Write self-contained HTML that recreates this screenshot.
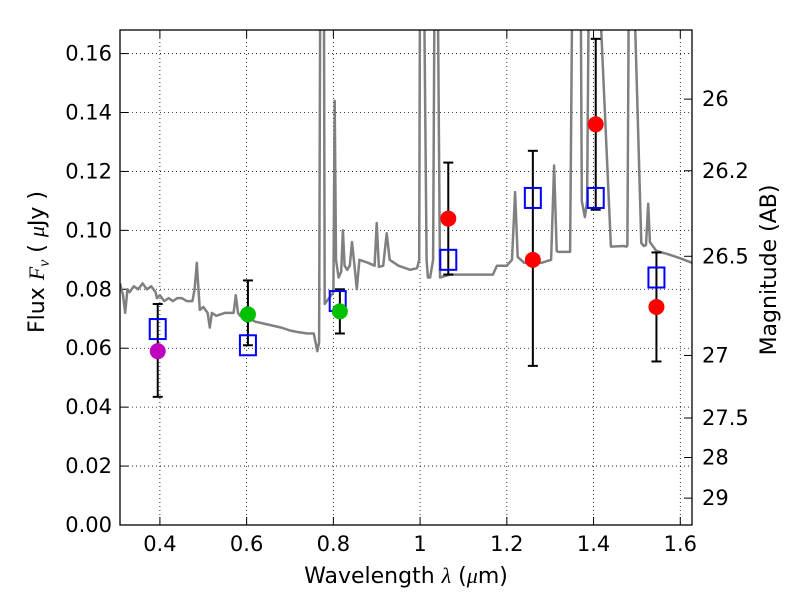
<!DOCTYPE html>
<html><head><meta charset="utf-8"><style>
body{margin:0;background:#fff;width:800px;height:600px;overflow:hidden}
svg text{font-family:"DejaVu Sans","Liberation Sans",sans-serif;fill:#000}
</style></head><body>
<svg id="chart" width="800" height="600">
<defs><clipPath id="pc"><rect x="120" y="30" width="572" height="495"/></clipPath></defs>
</svg>
<script>
const specWave=[0.308,0.315,0.32,0.325,0.33,0.34,0.35,0.36,0.37,0.38,0.39,0.393,0.40,0.41,0.42,0.43,0.44,0.45,0.462,0.475,0.48,0.485,0.492,0.50,0.51,0.515,0.52,0.53,0.55,0.57,0.575,0.58,0.585,0.60,0.62,0.65,0.68,0.70,0.717,0.74,0.755,0.763,0.767,0.77,0.775,0.778,0.78,0.79,0.80,0.803,0.806,0.812,0.818,0.822,0.826,0.832,0.838,0.843,0.848,0.854,0.86,0.88,0.895,0.9,0.905,0.915,0.923,0.93,0.95,0.977,0.993,0.998,1.0,1.008,1.015,1.018,1.023,1.03,1.034,1.04,1.046,1.069,1.1,1.168,1.177,1.2,1.212,1.219,1.225,1.24,1.28,1.302,1.309,1.315,1.318,1.346,1.352,1.37,1.373,1.38,1.385,1.39,1.40,1.408,1.44,1.47,1.476,1.478,1.482,1.486,1.49,1.51,1.516,1.521,1.526,1.53,1.545,1.57,1.60,1.627];
const specFlux=[0.082,0.078,0.072,0.080,0.079,0.081,0.080,0.082,0.080,0.081,0.079,0.077,0.078,0.076,0.077,0.076,0.077,0.077,0.076,0.076,0.080,0.089,0.073,0.074,0.072,0.067,0.072,0.071,0.072,0.072,0.078,0.072,0.071,0.0706,0.069,0.068,0.067,0.066,0.0655,0.065,0.065,0.059,0.062,0.2,0.2,0.2,0.075,0.077,0.079,0.144,0.09,0.084,0.086,0.100,0.088,0.0866,0.088,0.096,0.089,0.080,0.090,0.089,0.088,0.1025,0.0876,0.088,0.099,0.090,0.088,0.0866,0.0872,0.09,0.2,0.2,0.09,0.084,0.084,0.09,0.2,0.2,0.084,0.085,0.085,0.085,0.088,0.088,0.09,0.113,0.091,0.089,0.089,0.09,0.122,0.093,0.0927,0.0927,0.2,0.2,0.11,0.1045,0.11,0.2,0.2,0.2,0.0945,0.0947,0.0945,0.095,0.2,0.2,0.2,0.0957,0.0947,0.095,0.109,0.096,0.093,0.092,0.0905,0.089,0.0895];
const pointWave=[0.395,0.603,0.815,1.065,1.26,1.405,1.545];
const pointFlux=[0.059,0.0715,0.0725,0.104,0.090,0.136,0.074];
const pointLo=[0.0435,0.061,0.065,0.085,0.054,0.107,0.0555];
const pointHi=[0.075,0.083,0.080,0.123,0.127,0.165,0.0925];
const pointColor=["#bf00bf","#00c000","#00c000","#ff0000","#ff0000","#ff0000","#ff0000"];
const modelWave=[0.395,0.603,0.81,1.065,1.26,1.405,1.545];
const modelFlux=[0.0665,0.061,0.076,0.090,0.111,0.111,0.084];
const xTicks=[0.4,0.6,0.8,1,1.2,1.4,1.6];
const yTicks=[0,0.02,0.04,0.06,0.08,0.1,0.12,0.14,0.16];
const magTicks=[26,26.2,26.5,27,27.5,28,29];

const X0=120,X1=692,Y0=30,Y1=525,WMIN=0.308,WMAX=1.627,FMAX=0.168;
const sx=w=>X0+(w-WMIN)/(WMAX-WMIN)*(X1-X0);
const sy=f=>Y1-f/FMAX*(Y1-Y0);
const svg=document.getElementById('chart');const NS='http://www.w3.org/2000/svg';
function mk(t,a,p){const e=document.createElementNS(NS,t);for(const k in a)e.setAttribute(k,a[k]);(p||svg).appendChild(e);return e;}

const grid=mk('g',{});


xTicks.forEach(v=>{mk('line',{x1:sx(v),x2:sx(v),y1:Y0,y2:Y1,stroke:'#000','stroke-dasharray':'1,3','stroke-width':0.8},grid);
mk('line',{x1:sx(v),x2:sx(v),y1:Y1,y2:Y1-8,stroke:'#000'},grid);mk('line',{x1:sx(v),x2:sx(v),y1:Y0,y2:Y0+8,stroke:'#000'},grid);
const t=mk('text',{x:sx(v),y:Y1+26,'font-size':21,'text-anchor':'middle'});t.textContent=String(v);

});
yTicks.forEach(v=>{mk('line',{x1:X0,x2:X1,y1:sy(v),y2:sy(v),stroke:'#000','stroke-dasharray':'1,3','stroke-width':0.8},grid);
mk('line',{x1:X0,x2:X0+8,y1:sy(v),y2:sy(v),stroke:'#000'},grid);
const t=mk('text',{x:X0-8,y:sy(v)+7,'font-size':21,'text-anchor':'end'});t.textContent=v.toFixed(2);

});
magTicks.forEach(m=>{const f=Math.pow(10,(23.9-m)/2.5);const y=sy(f);
mk('line',{x1:X1,x2:X1-8,y1:y,y2:y,stroke:'#000'},grid);
const t=mk('text',{x:X1+10,y:y+7,'font-size':21});t.textContent=String(m);

});

const plot=mk('g',{'clip-path':'url(#pc)'});
let d='';specWave.forEach((w,i)=>{d+=(i?'L':'M')+sx(w).toFixed(1)+','+sy(specFlux[i]).toFixed(1);});
const sp=mk('path',{d:d,fill:'none',stroke:'#808080','stroke-width':2.5,'stroke-linejoin':'round'},plot);


pointWave.forEach((w,i)=>{const x=sx(w);
const eb=mk('g',{},plot);


mk('line',{x1:x,x2:x,y1:sy(pointLo[i]),y2:sy(pointHi[i]),stroke:'#000','stroke-width':2},eb);
mk('line',{x1:x-5,x2:x+5,y1:sy(pointLo[i]),y2:sy(pointLo[i]),stroke:'#000','stroke-width':2},eb);
mk('line',{x1:x-5,x2:x+5,y1:sy(pointHi[i]),y2:sy(pointHi[i]),stroke:'#000','stroke-width':2},eb);});
modelWave.forEach((w,i)=>{const r=mk('rect',{x:sx(w)-8,y:sy(modelFlux[i])-10,width:16,height:20,fill:'none',stroke:'#0000ff','stroke-width':2},plot);

});
pointWave.forEach((w,i)=>{const c=mk('circle',{cx:sx(w),cy:sy(pointFlux[i]),r:8,fill:pointColor[i]},plot);

});

const fr=mk('rect',{x:X0,y:Y0,width:X1-X0,height:Y1-Y0,fill:'none',stroke:'#000','stroke-width':1.3});


const xl=mk('text',{x:406,y:583,'font-size':22,'text-anchor':'middle'});
xl.innerHTML='Wavelength  <tspan font-family="Liberation Serif" font-style="italic">λ</tspan> (<tspan font-family="Liberation Serif" font-style="italic">μ</tspan>m)';
xl.setAttribute('xml:space','preserve');


const yl=mk('text',{x:0,y:0,'font-size':22,'text-anchor':'middle',transform:'translate(44,262) rotate(-90)'});
yl.innerHTML='Flux  <tspan font-family="Liberation Serif" font-style="italic">F</tspan><tspan font-family="Liberation Serif" font-style="italic" font-size="16" dy="5">ν</tspan><tspan dy="-5">  (  </tspan><tspan font-family="Liberation Serif" font-style="italic">μ</tspan>Jy )';


const yr=mk('text',{x:0,y:0,'font-size':22,'text-anchor':'middle',transform:'translate(776,270) rotate(-90)'});yr.textContent='Magnitude (AB)';


</script>
</body></html>
